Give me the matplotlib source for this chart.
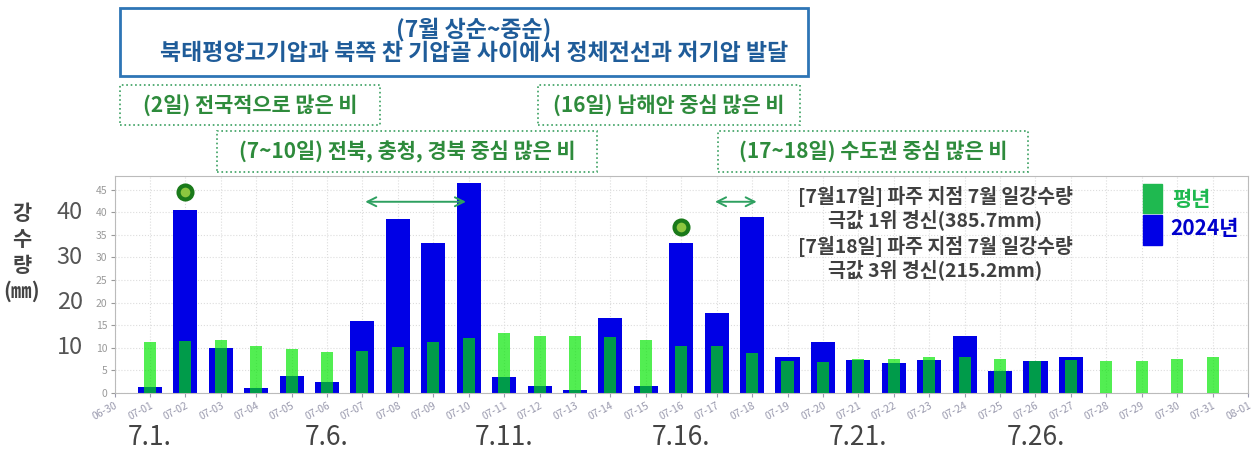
import numpy as np
import pandas as pd
import matplotlib
matplotlib.use('Agg')
import matplotlib.pyplot as plt
import matplotlib.dates as mdates
from matplotlib.patches import Rectangle, ConnectionPatch
from matplotlib.transforms import blended_transform_factory

plt.rcParams['font.family'] = ['Noto Sans CJK KR', 'DejaVu Sans']

# 2024 daily rain (07-01 .. 07-27) and normal-year values (07-01 .. 07-31)
dates_2024 = pd.date_range('2024-07-01', '2024-07-27')
rain_2024 = [1.3, 40.4, 9.9, 1.0, 3.8, 2.4, 15.9, 38.4, 33.2, 46.5,
             3.6, 1.6, 0.6, 16.5, 1.6, 33.2, 17.8, 38.9, 7.9, 11.3,
             7.3, 6.7, 7.3, 12.7, 4.9, 7.0, 8.0]
dates_norm = pd.date_range('2024-07-01', '2024-07-31')
rain_norm = [11.3, 11.5, 11.7, 10.4, 9.7, 9.0, 9.3, 10.1, 11.3, 12.1,
             13.3, 12.6, 12.6, 12.4, 11.7, 10.5, 10.4, 8.9, 7.0, 6.9,
             7.6, 7.6, 7.9, 7.9, 7.6, 7.0, 7.4, 7.0, 7.0, 7.6, 8.0]
tick_dates = pd.date_range('2024-06-30', '2024-08-01')
big_labels = ['7.1.', '7.6.', '7.11.', '7.16.', '7.21.', '7.26.']
big_label_dates = pd.to_datetime(['2024-07-01', '2024-07-06', '2024-07-11',
                                  '2024-07-16', '2024-07-21', '2024-07-26'])
peak_dates = pd.to_datetime(['2024-07-02', '2024-07-16'])
peak_marks = [44.4, 36.8]

W, H = 1252, 450
fig = plt.figure(figsize=(W / 100, H / 100), dpi=100)

def fx(px):
    return px / W

def fy(py):
    return 1 - py / H

ax = fig.add_axes([fx(114.5), fy(393), fx(1248 - 114.5), (393 - 176) / H])

blue = '#0000e6'
ax.bar(dates_2024, rain_2024, width=0.68, color=blue, zorder=2)
ax.bar(dates_norm, rain_norm, width=0.34, color='#00e600', alpha=0.68, zorder=3)

ax.set_xlim(tick_dates[0], tick_dates[-1])
ax.set_ylim(0, 48)
ax.set_xticks(tick_dates)
ax.xaxis.set_major_formatter(mdates.DateFormatter('%m-%d'))
ax.set_yticks(np.arange(0, 46, 5))
for lab in ax.get_xticklabels():
    lab.set_rotation(28)
    lab.set_ha('right')
    lab.set_rotation_mode('anchor')
ax.tick_params(axis='x', labelsize=7.5, colors='#9a9aae', length=3, pad=2)
ax.tick_params(axis='y', labelsize=7.5, colors='#9a9a9a', length=3, pad=2)
ax.grid(True, color='#dddddd', linestyle=':', linewidth=0.8, zorder=0)
ax.set_axisbelow(True)
for sp in ax.spines.values():
    sp.set_color('#bbbbbb')

# peak markers
ax.plot(peak_dates, peak_marks, 'o', ms=10, mfc='#8cc63f', mec='#1a7a1a', mew=3, zorder=5)

# arrows
arrow_kw = dict(arrowstyle='<->', color='#2ea060', lw=1.4, mutation_scale=16)
ax.annotate('', xy=(pd.Timestamp('2024-07-07'), 42.3),
            xytext=(pd.Timestamp('2024-07-10'), 42.3), arrowprops=arrow_kw)
ax.annotate('', xy=(pd.Timestamp('2024-07-16 21:00'), 42.3),
            xytext=(pd.Timestamp('2024-07-18 05:00'), 42.3), arrowprops=arrow_kw)

# large y labels and y title
tr_y = blended_transform_factory(ax.transAxes, ax.transData)
for v in [10, 20, 30, 40]:
    ax.text(-0.028, v, str(v), transform=tr_y, ha='right', va='center',
            fontsize=17, color='#555555')
for i, ch in enumerate(['강', '수', '량', '(㎜)']):
    fig.text(fx(22), fy(213 + i * 26), ch, ha='center', va='center',
             fontsize=15, fontweight='bold', color='#444444')

# big date labels below
tr_x = blended_transform_factory(ax.transData, ax.transAxes)
for d, lab in zip(big_label_dates, big_labels):
    ax.text(d, -0.205, lab, transform=tr_x, ha='center', va='center',
            fontsize=19, color='#444444')

# record notes
note_c = '#404040'
fig.text(fx(935), fy(208), '[7월17일] 파주 지점 7월 일강수량\n극값 1위 경신(385.7mm)',
         ha='center', va='center', fontsize=14, fontweight='bold',
         color=note_c, linespacing=1.15)
fig.text(fx(935), fy(258), '[7월18일] 파주 지점 7월 일강수량\n극값 3위 경신(215.2mm)',
         ha='center', va='center', fontsize=14, fontweight='bold',
         color=note_c, linespacing=1.15)

# legend
fig.add_artist(Rectangle((fx(1143), fy(213)), fx(19), 29 / H, transform=fig.transFigure,
                         color='#1fb950', zorder=5))
fig.add_artist(Rectangle((fx(1143), fy(245)), fx(19), 30 / H, transform=fig.transFigure,
                         color='#0000e6', zorder=5))
fig.text(fx(1172), fy(199), '평년', ha='left', va='center', fontsize=15,
         fontweight='bold', color='#1fb950')
fig.text(fx(1170), fy(229), '2024년', ha='left', va='center', fontsize=15,
         fontweight='bold', color='#0000cc')

# top blue box
fig.add_artist(Rectangle((fx(120), fy(76)), fx(808 - 120), (76 - 8) / H,
                         transform=fig.transFigure, fill=False,
                         edgecolor='#2e75b6', lw=2))
fig.text(fx(474), fy(41), '(7월 상순~중순)\n북태평양고기압과 북쪽 찬 기압골 사이에서 정체전선과 저기압 발달',
         ha='center', va='center', fontsize=16.5, fontweight='bold',
         color='#1f5c99', linespacing=1.05)

# green dotted boxes
green_txt = '#2e8b3c'
boxes = [
    ((120, 85, 380, 125), '(2일) 전국적으로 많은 비'),
    ((538, 85, 800, 125), '(16일) 남해안 중심 많은 비'),
    ((217, 131, 597, 172), '(7~10일) 전북, 충청, 경북 중심 많은 비'),
    ((718, 131, 1028, 172), '(17~18일) 수도권 중심 많은 비'),
]
for (x0, y0, x1, y1), txt in boxes:
    fig.add_artist(Rectangle((fx(x0), fy(y1)), fx(x1 - x0), (y1 - y0) / H,
                             transform=fig.transFigure, fill=False,
                             edgecolor='#3aa060', lw=1.2, linestyle=':'))
    fig.text(fx((x0 + x1) / 2), fy((y0 + y1) / 2), txt, ha='center', va='center',
             fontsize=15, fontweight='bold', color=green_txt)

# dotted connectors from boxes to chart
links = [
    ((183, 125), (pd.Timestamp('2024-07-02'), 46.2)),
    ((412, 172), (pd.Timestamp('2024-07-08 12:00'), 42.3)),
    ((678, 125), (pd.Timestamp('2024-07-16'), 38.6)),
    ((735, 172), (pd.Timestamp('2024-07-17 14:00'), 42.3)),
]
for (px, py), (dx, dy) in links:
    con = ConnectionPatch(xyA=(fx(px), fy(py)), coordsA='figure fraction',
                          xyB=(mdates.date2num(dx), dy), coordsB='data', axesB=ax,
                          color='#3a7a6a', lw=1.1, linestyle=':')
    fig.add_artist(con)

fig.savefig('out.png', dpi=100, facecolor='white')
